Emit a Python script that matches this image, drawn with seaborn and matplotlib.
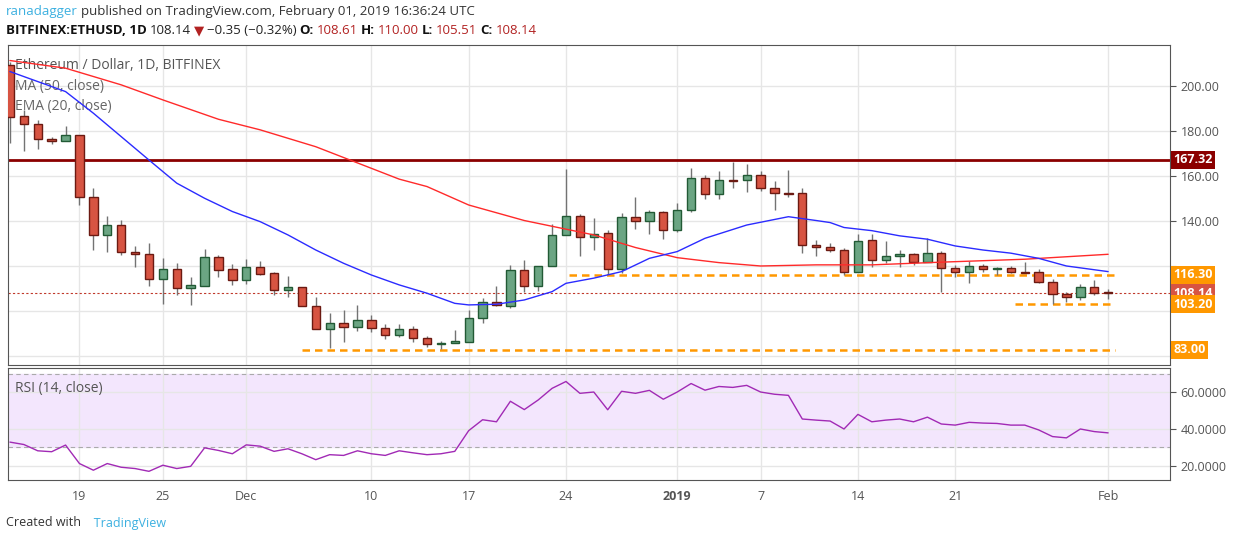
import matplotlib
matplotlib.use("Agg")
import matplotlib.pyplot as plt
import seaborn as sns
import numpy as np
import pandas as pd

# daily candles, Nov 14 2018 .. Feb 01 2019
opens = [209.6, 186.8, 183.5, 176.6, 175.6, 178.4, 150.8, 133.9, 138.3, 126.4,
         125.4, 114.6, 118.7, 110.6, 111.5, 124.2, 118.7, 113.8, 119.6, 116.9,
         109.4, 110.7, 102.6, 92.1, 94.8, 93.0, 96.1, 92.5, 89.5, 92.1,
         88.1, 85.4, 85.8, 86.5, 97.3, 104.0, 102.2, 118.2, 111.1, 120.4,
         133.8, 142.2, 132.9, 134.7, 118.7, 141.8, 140.0, 144.0, 136.0, 144.9,
         159.1, 152.0, 158.2, 158.2, 160.5, 154.7, 152.5, 152.5, 129.4, 128.5,
         127.3, 117.6, 131.6, 122.7, 124.7, 125.4, 121.9, 126.0, 119.3, 117.5,
         120.0, 118.8, 119.1, 117.5, 117.4, 113.3, 107.7, 106.2, 110.8, 108.61]
highs = [211.0, 189.6, 185.0, 177.3, 182.6, 178.4, 155.0, 142.2, 140.7, 129.0,
         130.6, 123.6, 121.5, 115.2, 127.9, 125.2, 121.0, 123.3, 122.3, 117.6,
         115.7, 110.7, 106.2, 99.2, 100.7, 102.9, 98.5, 94.5, 94.5, 93.5,
         89.3, 87.0, 91.7, 100.5, 105.8, 111.2, 120.6, 122.8, 120.4, 138.8,
         163.3, 143.2, 141.5, 136.2, 143.8, 151.0, 145.0, 144.5, 148.3, 163.6,
         160.6, 162.4, 166.3, 165.4, 162.4, 157.8, 162.8, 154.7, 131.8, 130.3,
         128.0, 134.4, 134.4, 131.3, 127.4, 125.9, 132.5, 126.9, 120.7, 122.4,
         121.2, 119.8, 120.3, 121.9, 118.7, 114.2, 108.5, 112.0, 113.9, 110.00]
lows = [175.0, 171.5, 172.0, 174.3, 175.6, 147.4, 127.3, 126.6, 125.1, 119.9,
        111.5, 103.5, 107.1, 102.8, 111.5, 115.4, 111.8, 112.0, 116.2, 107.3,
        106.5, 102.6, 92.1, 83.7, 86.2, 91.2, 90.7, 87.6, 88.5, 86.6,
        84.3, 83.3, 85.8, 86.5, 94.9, 102.5, 101.6, 108.7, 108.9, 120.4,
        133.8, 124.7, 127.4, 116.6, 117.1, 136.5, 134.2, 132.3, 135.1, 144.0,
        149.8, 150.1, 155.0, 152.9, 153.4, 145.3, 151.0, 126.1, 124.7, 126.5,
        116.4, 117.6, 119.6, 121.7, 119.6, 120.7, 121.9, 108.5, 115.2, 112.5,
        117.4, 116.1, 117.0, 117.2, 112.5, 103.2, 104.1, 105.1, 107.5, 105.51]
closes = [186.6, 183.5, 176.5, 175.6, 178.4, 150.8, 133.9, 138.3, 126.3, 125.4,
          114.6, 118.7, 110.6, 111.6, 124.2, 118.6, 113.8, 119.6, 116.8, 109.4,
          110.7, 102.6, 92.1, 94.8, 93.0, 96.1, 92.5, 89.5, 92.1, 88.1,
          85.4, 86.0, 86.8, 97.3, 104.0, 102.7, 118.2, 111.1, 120.4, 133.8,
          142.2, 132.9, 134.2, 118.7, 141.8, 140.0, 144.0, 136.0, 144.9, 159.1,
          152.0, 158.2, 158.1, 160.5, 154.7, 152.5, 152.3, 129.4, 128.5, 127.1,
          117.6, 131.1, 122.7, 124.7, 125.4, 121.9, 126.0, 119.2, 117.5, 120.0,
          118.8, 119.1, 117.5, 117.2, 113.3, 107.7, 106.2, 110.8, 108.1, 108.14]

# moving averages (candle index, value)
ema_idx = [0, 4, 6, 8, 10, 12, 14, 16, 18, 20, 22, 24, 26, 28, 30, 32, 33, 35, 37, 39, 40,
           42, 44, 46, 48, 50, 53, 56, 58, 59, 60, 62, 64, 66, 68, 70, 72, 74, 76, 79]
ema_val = [206.6, 197.7, 188.1, 177.7, 167.3, 157.0, 150.3, 144.4, 139.9, 134.0, 127.3,
           121.4, 116.2, 111.8, 108.1, 103.6, 102.9, 103.2, 105.1, 108.8, 112.5,
           114.8, 117.7, 123.6, 126.6, 132.5, 138.4, 142.1, 140.4, 139.5, 137.3,
           135.9, 133.6, 132.1, 129.1, 127.3, 125.9, 123.6, 120.2, 117.7]
ma_idx = [0, 4, 8, 11, 15, 18, 22, 26, 28, 30, 33, 37, 42, 45, 48, 51, 54, 58, 62, 67, 73, 79]
ma_val = [211.5, 208.1, 200.7, 194.0, 185.4, 180.7, 173.2, 163.6, 158.8, 155.5, 147.3,
          140.4, 134.0, 128.4, 123.9, 121.7, 120.2, 120.7, 120.7, 121.9, 123.2, 125.4]

rsi = [32.9, 31.6, 28.2, 27.7, 31.3, 21.3, 17.7, 21.3, 19.3, 18.6,
       17.1, 20.4, 18.6, 19.8, 29.8, 28.4, 26.6, 31.4, 30.7, 27.9,
       29.3, 26.6, 23.4, 26.1, 25.7, 28.2, 26.6, 25.7, 28.2, 27.1,
       26.1, 26.6, 27.9, 39.1, 45.0, 43.9, 55.0, 50.5, 55.7, 62.0,
       65.7, 59.3, 60.0, 50.4, 60.4, 59.3, 60.9, 56.1, 60.0, 64.6,
       61.0, 63.0, 62.5, 63.6, 60.0, 58.8, 58.2, 45.4, 44.8, 44.3,
       40.0, 47.9, 43.9, 44.8, 45.4, 43.9, 46.4, 42.7, 42.1, 43.6,
       43.2, 43.0, 42.1, 42.1, 39.5, 35.9, 35.2, 40.0, 38.6, 37.9]

tick_idx = [5, 11, 17, 26, 33, 40, 48, 54, 61, 68, 79]
tick_lbl = ['19', '25', 'Dec', '10', '17', '24', '2019', '7', '14', '21', 'Feb']

levels = [167.32, 116.30, 103.20, 83.00]
level_start = [None, 40.2, 72.3, 21.0]
last_close = 108.14

sns.set_style("white")
plt.rcParams['font.family'] = ['Open Sans', 'DejaVu Sans']

W, H = 1234, 541
fig = plt.figure(figsize=(W / 100, H / 100), dpi=100)
L, R = 8 / W, 1170 / W
ax = fig.add_axes([L, 1 - 365 / H, R - L, 320 / H])
ax2 = fig.add_axes([L, 1 - 480 / H, R - L, 112 / H])
xlim = (-0.14, 83.45)

df = pd.DataFrame({'i': np.arange(len(closes)), 'o': opens, 'h': highs, 'l': lows, 'c': closes})
up = df[df.c >= df.o]
dn = df[df.c < df.o]
green, green_e = '#6ba583', '#225a35'
red, red_e = '#d75442', '#6b1a12'
ax.vlines(df.i, df.l, df.h, color='#737373', lw=1, zorder=3)
ax.bar(up.i, up.c - up.o, bottom=up.o, width=0.6, color=green, edgecolor=green_e, lw=1, zorder=4)
ax.bar(dn.i, dn.o - dn.c, bottom=dn.c, width=0.6, color=red, edgecolor=red_e, lw=1, zorder=4)

sns.lineplot(x=ma_idx, y=ma_val, ax=ax, color='#ff2a2a', lw=1, zorder=5)
sns.lineplot(x=ema_idx, y=ema_val, ax=ax, color='#2b2bff', lw=1, zorder=5)

ax.axhline(levels[0], color='#8b0000', lw=2, zorder=2)
for lv, st in zip(levels[1:], level_start[1:]):
    ax.hlines(lv, st, 79.5, color='#ff9800', lw=1.8, ls=(0, (3, 2)), zorder=2)
ax.axhline(last_close, color='#c0392b', lw=0.8, ls=(0, (2, 2)), zorder=2)

ax.set_xlim(xlim)
ax.set_ylim(76.2, 218.4)
yt = [80, 100, 120, 140, 160, 180, 200]
ax.set_yticks(yt)
# 80, 100 and 120 are hidden behind the price tags in the reference
ax.set_yticklabels(['' if v <= 120 else f'{v:.2f}' for v in yt])
ax.yaxis.tick_right()
ax.set_xticks(tick_idx)
ax.tick_params(axis='x', labelbottom=False, length=0)
ax.tick_params(axis='y', colors='#555555', labelsize=9, length=4)
ax.grid(True, color='#e6e6e6', lw=1)
for s in ax.spines.values():
    s.set_color('#555555')

tags = [(167.32, '167.32', '#8b0000'), (116.30, '116.30', '#ff9800'),
        (108.14, '108.14', '#d75442'), (103.20, '103.20', '#ff9800'), (83.00, '83.00', '#ff9800')]
for v, t, c in tags:
    ty = ax.transAxes.inverted().transform(ax.transData.transform((0, v)))[1]
    ax.text(1.003, ty, t, transform=ax.transAxes, fontsize=9, color='white',
            fontweight='bold', va='center', ha='left', zorder=20, clip_on=False,
            bbox=dict(boxstyle='square,pad=0.2', fc=c, ec='none'))

ax.text(0.006, 0.96, 'Ethereum / Dollar, 1D, BITFINEX', transform=ax.transAxes,
        fontsize=10, color='#555555', va='top')
ax.text(0.006, 0.895, 'MA (50, close)', transform=ax.transAxes, fontsize=10, color='#666666', va='top')
ax.text(0.006, 0.83, 'EMA (20, close)', transform=ax.transAxes, fontsize=10, color='#666666', va='top')

# RSI pane
ax2.axhspan(30, 70, color='#f3e6fd', zorder=0)
ax2.axhline(70, color='#aaaaaa', lw=0.8, ls=(0, (4, 3)))
ax2.axhline(30, color='#aaaaaa', lw=0.8, ls=(0, (4, 3)))
sns.lineplot(x=np.arange(len(rsi)), y=rsi, ax=ax2, color='#a12ab5', lw=1)
ax2.set_xlim(xlim)
ax2.set_ylim(12.4, 73)
ax2.set_yticks([20, 40, 60])
ax2.set_yticklabels(['20.0000', '40.0000', '60.0000'])
ax2.yaxis.tick_right()
ax2.set_xticks(tick_idx)
ax2.set_xticklabels(tick_lbl)
ax2.tick_params(axis='both', colors='#555555', labelsize=9, length=4)
ax2.grid(True, color='#e6e6e6', lw=1)
for s in ax2.spines.values():
    s.set_color('#555555')
ax2.text(0.006, 0.88, 'RSI (14, close)', transform=ax2.transAxes, fontsize=10, color='#555555', va='top')
ax2.get_xticklabels()[6].set_fontweight('bold')

# header / footer texts, placed one after another
renderer = fig.canvas.get_renderer()


def run_text(x_px, y_px, pieces, size=9.5):
    x = x_px
    for txt, col, bold in pieces:
        t = fig.text(x / W, 1 - y_px / H, txt, color=col, fontsize=size,
                     fontweight='bold' if bold else 'normal', va='center')
        x = t.get_window_extent(renderer).x1 + 3


run_text(6, 12, [('ranadagger', '#3cb0e0', False),
                 ('published on TradingView.com, February 01, 2019 16:36:24 UTC', '#333333', False)])
run_text(6, 31, [('BITFINEX:ETHUSD, 1D', '#111111', True), ('108.14', '#222222', False),
                 ('\u25bc', '#b22222', False), ('\u22120.35 (\u22120.32%)', '#222222', False),
                 ('O:', '#111111', True), ('108.61', '#b22222', False),
                 ('H:', '#111111', True), ('110.00', '#b22222', False),
                 ('L:', '#111111', True), ('105.51', '#b22222', False),
                 ('C:', '#111111', True), ('108.14', '#b22222', False)])
run_text(6, 523, [('Created with', '#333333', False), ('   TradingView', '#3cb0e0', False)], size=9)

fig.savefig('out.png', dpi=100, facecolor='white')
